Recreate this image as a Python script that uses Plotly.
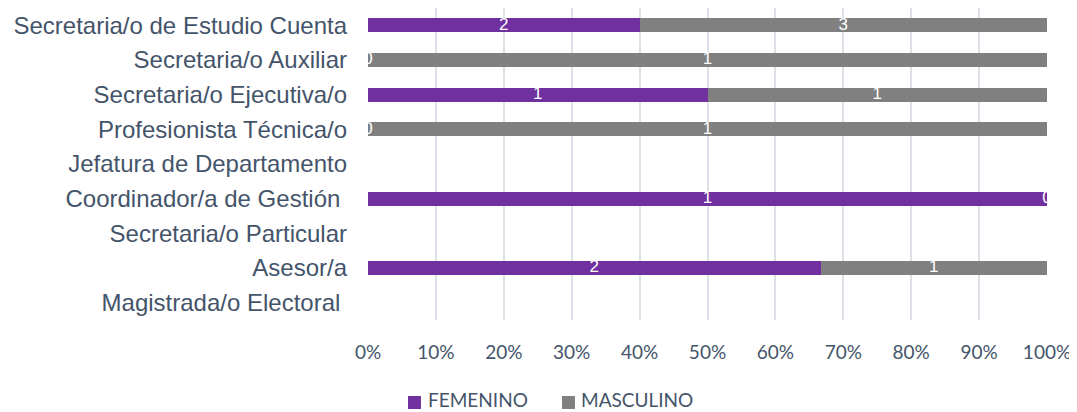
import numpy as np
import plotly.graph_objects as go

# categories listed bottom -> top, as plotted
puestos = [
    "Magistrada/o Electoral\u00a0",
    "Asesor/a",
    "Secretaria/o Particular",
    "Coordinador/a de Gestión\u00a0",
    "Jefatura de Departamento",
    "Profesionista Técnica/o",
    "Secretaria/o Ejecutiva/o",
    "Secretaria/o Auxiliar",
    "Secretaria/o de Estudio Cuenta",
]
femenino = [0, 2, 0, 1, 0, 0, 1, 0, 2]
masculino = [0, 1, 0, 0, 0, 1, 1, 1, 3]
series_names = ["FEMENINO", "MASCULINO"]

fem = np.array(femenino, dtype=float)
mas = np.array(masculino, dtype=float)
total = fem + mas
with np.errstate(invalid="ignore", divide="ignore"):
    fem_pct = np.where(total > 0, fem / total * 100, np.nan)
    mas_pct = np.where(total > 0, mas / total * 100, np.nan)

PURPLE = "#7030A0"
GRAY = "#808080"
TXT = "#44546A"
SANS = "Liberation Sans, Arial"
NARROW = "Lato, Open Sans"

fig = go.Figure()
fig.add_trace(go.Bar(y=puestos, x=np.nan_to_num(fem_pct), name=series_names[0], orientation="h",
                     marker=dict(color=PURPLE, line=dict(width=0)), width=0.4, hoverinfo="skip"))
fig.add_trace(go.Bar(y=puestos, x=np.nan_to_num(mas_pct), name=series_names[1], orientation="h",
                     marker=dict(color=GRAY, line=dict(width=0)), width=0.4, hoverinfo="skip"))

# value labels at the middle of each segment (clipped at the axis edges like the original)
fem_mid = np.where(np.isnan(fem_pct), None, fem_pct / 2)
mas_mid = np.where(np.isnan(mas_pct), None, np.nan_to_num(fem_pct) + mas_pct / 2)
for mid, vals in ((fem_mid, femenino), (mas_mid, masculino)):
    fig.add_trace(go.Scatter(
        y=puestos, x=list(mid), mode="text", text=[str(v) for v in vals],
        textfont=dict(color="white", size=17, family=SANS),
        cliponaxis=True, showlegend=False, hoverinfo="skip"))

# legend: small square swatch right against each label, like the original
for name, color, sq_x, txt_x in ((series_names[0], PURPLE, 0.0589, 0.0855),
                                 (series_names[1], GRAY, 0.2857, 0.3110)):
    fig.add_shape(type="rect", xref="paper", yref="paper",
                  x0=sq_x, x1=sq_x + 0.0191, y0=-0.2853, y1=-0.2436,
                  fillcolor=color, line=dict(width=0))
    fig.add_annotation(text=name, xref="paper", yref="paper", x=txt_x, y=-0.256,
                       xanchor="left", yanchor="middle", showarrow=False,
                       font=dict(family=NARROW, size=19, color=TXT))

fig.update_layout(
    barmode="stack",
    width=1069, height=404,
    margin=dict(l=360, r=30, t=0, b=92),
    paper_bgcolor="white", plot_bgcolor="white",
    showlegend=False,
    xaxis=dict(range=[0, 100], tickvals=list(range(0, 101, 10)),
               ticktext=[f"{v}%" for v in range(0, 101, 10)],
               showgrid=True, gridcolor="#DDE1E8", gridwidth=1.5, zeroline=False,
               showline=False, ticks="", ticklabelstandoff=19,
               tickfont=dict(family=NARROW, size=19, color=TXT)),
    yaxis=dict(categoryorder="array", categoryarray=puestos, range=[-0.5, 8.5],
               showgrid=False, zeroline=False, showline=False, ticks="",
               ticklabelstandoff=20,
               tickfont=dict(family=SANS, size=24, color=TXT)),
)

fig.write_html("out.html")
